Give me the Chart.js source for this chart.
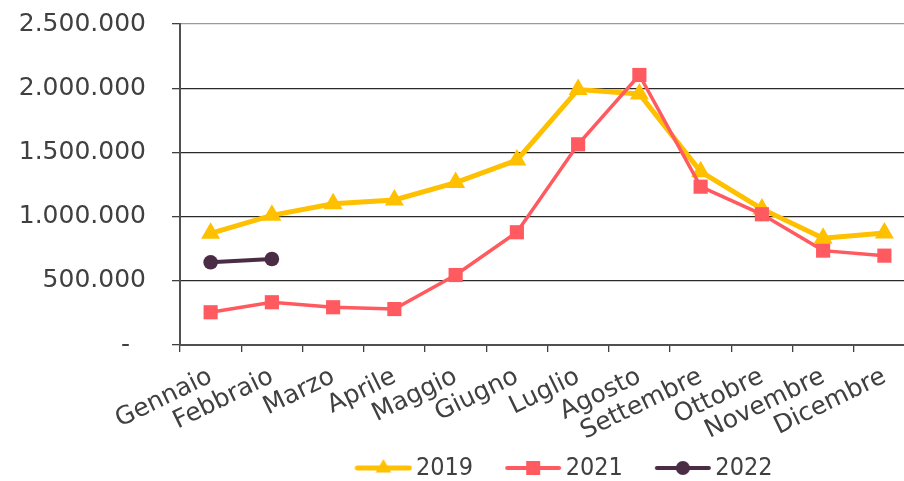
<!DOCTYPE html>
<html>
<head>
<meta charset="utf-8">
<script src="https://cdn.jsdelivr.net/npm/chart.js@4.4.0/dist/chart.umd.min.js"></script>
<style>
  html, body { margin: 0; padding: 0; background: #fff; overflow: hidden; }
  canvas { display: block; }
</style>
</head>
<body>
<canvas id="chart" width="915" height="481"></canvas>
<script>
const months = ['Gennaio', 'Febbraio', 'Marzo', 'Aprile', 'Maggio', 'Giugno', 'Luglio',
                'Agosto', 'Settembre', 'Ottobre', 'Novembre', 'Dicembre'];
const values2019 = [870000, 1010000, 1100000, 1130000, 1265000, 1440000, 1990000, 1955000, 1350000, 1060000, 832000, 872000];
const values2021 = [255000, 333000, 294000, 280000, 545000, 878000, 1563000, 2103000, 1233000, 1018000, 735000, 696000];
const values2022 = [644000, 670000];
const yTickLabels = ['-  ', '500.000', '1.000.000', '1.500.000', '2.000.000', '2.500.000'];
const seriesNames = ['2019', '2021', '2022'];

const colors = ['#FFC000', '#FF5A5F', '#4A2C45'];
const textColor = '#404040';
const font = "'DejaVu Sans', sans-serif";

// small canvas used as legend symbol: line with the marker in the middle
function legendIcon(color, style, lineW, r) {
    const c = document.createElement('canvas');
    c.width = 58; c.height = 22;
    const ctx = c.getContext('2d');
    ctx.strokeStyle = color;
    ctx.fillStyle = color;
    ctx.lineWidth = lineW;
    ctx.lineCap = 'round';
    ctx.beginPath();
    ctx.moveTo(3, 11); ctx.lineTo(55, 11);
    ctx.stroke();
    ctx.beginPath();
    if (style === 'triangle') {
        ctx.moveTo(29, 11 - r);
        ctx.lineTo(29 + r * 0.866, 11 + r / 2);
        ctx.lineTo(29 - r * 0.866, 11 + r / 2);
        ctx.closePath();
    } else if (style === 'rect') {
        ctx.rect(29 - r, 11 - r, 2 * r, 2 * r);
    } else {
        ctx.arc(29, 11, r, 0, Math.PI * 2);
    }
    ctx.fill();
    return c;
}

const icons = [
    legendIcon(colors[0], 'triangle', 5, 9),
    legendIcon(colors[1], 'rect', 4, 7),
    legendIcon(colors[2], 'circle', 4, 7)
];

// move the legend to where the original sits, and let the x labels use the space below
const legendShift = {
    id: 'legendShift',
    afterLayout(chart) {
        const lg = chart.legend;
        const dx = 568 - (lg.left + lg.right) / 2;
        lg.left += dx; lg.right += dx;
        const dy = 468 - (lg.top + 40 + 12.5);
        lg.top += dy; lg.bottom += dy;
        const x = chart.scales.x;
        x.bottom = chart.height;
        x.height = x.bottom - x.top;
    }
};

new Chart(document.getElementById('chart'), {
    type: 'line',
    data: {
        labels: months,
        datasets: [
            {
                label: seriesNames[0],
                data: values2019,
                borderColor: colors[0],
                backgroundColor: colors[0],
                borderWidth: 5,
                pointStyle: 'triangle',
                pointRadius: 11,
                pointHoverRadius: 11,
                pointBorderWidth: 0,
                order: 3
            },
            {
                label: seriesNames[1],
                data: values2021,
                borderColor: colors[1],
                backgroundColor: colors[1],
                borderWidth: 3.5,
                pointStyle: 'rect',
                pointRadius: 10,
                pointHoverRadius: 10,
                pointBorderWidth: 0,
                order: 2
            },
            {
                label: seriesNames[2],
                data: values2022,
                borderColor: colors[2],
                backgroundColor: colors[2],
                borderWidth: 4,
                pointStyle: 'circle',
                pointRadius: 7.3,
                pointHoverRadius: 7.3,
                pointBorderWidth: 0,
                order: 1
            }
        ]
    },
    options: {
        responsive: false,
        animation: false,
        layout: { autoPadding: false, padding: { top: 24, left: 0, right: 0, bottom: 0 } },
        plugins: {
            tooltip: { enabled: false },
            legend: {
                position: 'bottom',
                labels: {
                    usePointStyle: true,
                    pointStyleWidth: 40,
                    boxHeight: 22,
                    padding: 40,
                    color: textColor,
                    font: { family: "'DejaVu Sans Condensed', 'Liberation Sans Narrow', 'DejaVu Sans'", size: 25 },
                    generateLabels() {
                        return seriesNames.map((name, i) => ({
                            text: name,
                            pointStyle: icons[i],
                            fillStyle: colors[i],
                            strokeStyle: colors[i],
                            lineWidth: 0,
                            fontColor: textColor,
                            hidden: false,
                            datasetIndex: i
                        }));
                    }
                }
            }
        },
        scales: {
            x: {
                offset: true,
                grid: {
                    display: true,
                    offset: true,
                    drawOnChartArea: false,
                    drawTicks: true,
                    tickLength: 7,
                    color: '#404040',
                    lineWidth: 1.3
                },
                border: { color: '#505050', width: 2 },
                ticks: {
                    autoSkip: false,
                    minRotation: 26,
                    maxRotation: 26,
                    padding: 10,
                    color: textColor,
                    font: { family: font, size: 25 }
                },
                afterFit(scale) {
                    scale.height = 481 - 345 - scale.chart.legend.height;
                    scale.paddingLeft = 0;
                    scale.paddingRight = 0;
                }
            },
            y: {
                min: 0,
                max: 2500000,
                ticks: {
                    stepSize: 500000,
                    padding: 26,
                    color: textColor,
                    font: { family: font, size: 25 },
                    callback: (value, index) => yTickLabels[index]
                },
                grid: {
                    color: ctx => (ctx.tick && ctx.tick.value === 2500000) ? '#9a9a9a' : '#2b2b2b',
                    tickColor: '#404040',
                    lineWidth: 1.3,
                    tickLength: 8
                },
                border: { color: '#505050', width: 2 },
                afterFit(scale) {
                    scale.width = 180;
                    scale.paddingTop = 0;
                    scale.paddingBottom = 0;
                }
            }
        }
    },
    plugins: [legendShift]
});
</script>
</body>
</html>
